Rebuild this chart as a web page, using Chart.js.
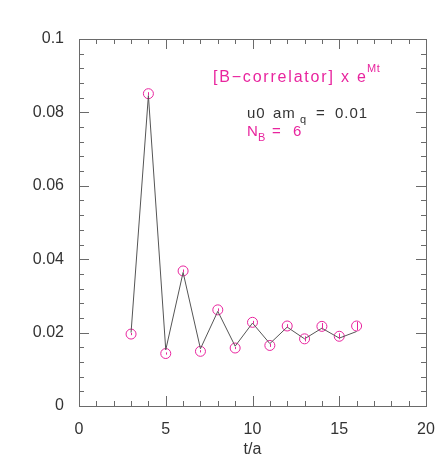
<!DOCTYPE html>
<html>
<head>
<meta charset="utf-8">
<title>B-correlator</title>
<script src="https://cdn.jsdelivr.net/npm/chart.js"></script>
<style>
  body { margin: 0; background: #fff; }
  #wrap { width: 436px; height: 463px; }
</style>
</head>
<body>
<div id="wrap"><canvas id="chart" width="436" height="463"></canvas></div>
<script>
// data
const tValues = [3, 4, 5, 6, 7, 8, 9, 10, 11, 12, 13, 14, 15, 16];
const corrValues = [0.0196, 0.0851, 0.0143, 0.0368, 0.0149, 0.0262, 0.0158, 0.0228, 0.0165, 0.0218, 0.0183, 0.0217, 0.0190, 0.0218];
const corrErrors = [0.0003, 0.0004, 0.0003, 0.0004, 0.0003, 0.0004, 0.0003, 0.0004, 0.0004, 0.0005, 0.0007, 0.0009, 0.0008, 0.0011];
const lineValues = [0.0200, 0.0846, 0.0153, 0.0364, 0.0156, 0.0258, 0.0163, 0.0226, 0.0170, 0.0215, 0.0183, 0.0212, 0.0185, 0.0203];
const xTicks = [0, 5, 10, 15, 20];
const yTicks = [0, 0.02, 0.04, 0.06, 0.08, 0.1];

const MAGENTA = '#e8249e';
const AXIS = '#6a6a6a';
const TEXT = '#333';
const FONT = '"Liberation Sans"';

const pts = (ys) => tValues.map((t, i) => ({ x: t, y: ys[i] }));

// inward ticks on all four sides + frame
const frameTicks = {
  id: 'frameTicks',
  afterDraw(chart) {
    const { ctx, chartArea: a, scales: { x, y } } = chart;
    ctx.save();
    ctx.strokeStyle = AXIS;
    ctx.lineWidth = 1;
    ctx.strokeRect(a.left + 0.5, a.top + 0.5, a.right - a.left, a.bottom - a.top);
    ctx.beginPath();
    for (let t = 0; t <= 20; t++) {
      const px = Math.round(x.getPixelForValue(t)) + 0.5;
      const len = t % 5 === 0 ? 10 : 5;
      ctx.moveTo(px, a.bottom); ctx.lineTo(px, a.bottom - len);
      ctx.moveTo(px, a.top); ctx.lineTo(px, a.top + len);
    }
    for (let k = 0; k <= 25; k++) {
      const py = Math.round(y.getPixelForValue(k * 0.004)) + 0.5;
      const len = k % 5 === 0 ? 10 : 5;
      ctx.moveTo(a.left, py); ctx.lineTo(a.left + len, py);
      ctx.moveTo(a.right, py); ctx.lineTo(a.right - len, py);
    }
    ctx.stroke();
    ctx.restore();
  }
};

// vertical error bars inside the circles
const errorBars = {
  id: 'errorBars',
  afterDatasetsDraw(chart) {
    const { ctx, scales: { x, y } } = chart;
    ctx.save();
    ctx.strokeStyle = MAGENTA;
    ctx.lineWidth = 1;
    ctx.beginPath();
    tValues.forEach((t, i) => {
      const px = Math.round(x.getPixelForValue(t)) + 0.5;
      ctx.moveTo(px, y.getPixelForValue(corrValues[i] - corrErrors[i]));
      ctx.lineTo(px, y.getPixelForValue(corrValues[i] + corrErrors[i]));
    });
    ctx.stroke();
    ctx.restore();
  }
};

function txt(ctx, s, x, y, size, color) {
  ctx.font = size + 'px ' + FONT;
  ctx.fillStyle = color;
  ctx.fillText(s, x, y);
}

// labels in the plot
const labels = {
  id: 'labels',
  afterDraw(chart) {
    const { ctx } = chart;
    ctx.save();
    ctx.textBaseline = 'alphabetic';
    ctx.letterSpacing = '1.8px';
    txt(ctx, '[B\u2212correlator] x e', 213, 82, 16, MAGENTA);
    ctx.letterSpacing = '0.5px';
    txt(ctx, 'Mt', 367, 72, 11, MAGENTA);

    ctx.letterSpacing = '1px';
    txt(ctx, 'u0', 247, 118, 15, TEXT);
    txt(ctx, 'am', 273, 118, 15, TEXT);
    txt(ctx, 'q', 300, 123, 11, TEXT);
    txt(ctx, '=', 316, 118, 15, TEXT);
    txt(ctx, '0.01', 335, 118, 15, TEXT);

    txt(ctx, 'N', 247, 136, 15, MAGENTA);
    txt(ctx, 'B', 258, 141, 11, MAGENTA);
    txt(ctx, '=', 272, 136, 15, MAGENTA);
    txt(ctx, '6', 293, 136, 15, MAGENTA);
    ctx.restore();
  }
};

new Chart(document.getElementById('chart'), {
  type: 'scatter',
  data: {
    datasets: [
      {
        type: 'line',
        data: pts(lineValues),
        borderColor: '#555',
        borderWidth: 1,
        pointRadius: 0,
        tension: 0,
        fill: false
      },
      {
        data: pts(corrValues),
        borderColor: MAGENTA,
        backgroundColor: 'rgba(0,0,0,0)',
        borderWidth: 1,
        pointRadius: 5,
        pointHoverRadius: 5
      }
    ]
  },
  options: {
    responsive: false,
    animation: false,
    events: [],
    layout: { padding: { left: 0, right: 10, top: 39, bottom: 0 } },
    plugins: { legend: { display: false }, tooltip: { enabled: false } },
    scales: {
      x: {
        min: 0, max: 20,
        afterFit: (s) => { s.height = 57; s.paddingLeft = 0; s.paddingRight = 0; },
        afterBuildTicks: (s) => { s.ticks = xTicks.map(v => ({ value: v })); },
        grid: { display: false },
        border: { display: false },
        ticks: { color: TEXT, font: { family: 'Liberation Sans', size: 16 }, padding: 6, maxRotation: 0 },
        title: { display: true, text: 't/a', color: TEXT, font: { family: 'Liberation Sans', size: 16 }, padding: { top: 2 } }
      },
      y: {
        min: 0, max: 0.1,
        afterFit: (s) => { s.width = 79; s.paddingTop = 0; s.paddingBottom = 0; },
        afterBuildTicks: (s) => { s.ticks = yTicks.map(v => ({ value: v })); },
        grid: { display: false },
        border: { display: false },
        ticks: {
          color: TEXT, font: { family: 'Liberation Sans', size: 16 }, padding: 7,
          callback: (v) => String(+v.toFixed(2))
        }
      }
    }
  },
  plugins: [errorBars, frameTicks, labels]
});
</script>
</body>
</html>
